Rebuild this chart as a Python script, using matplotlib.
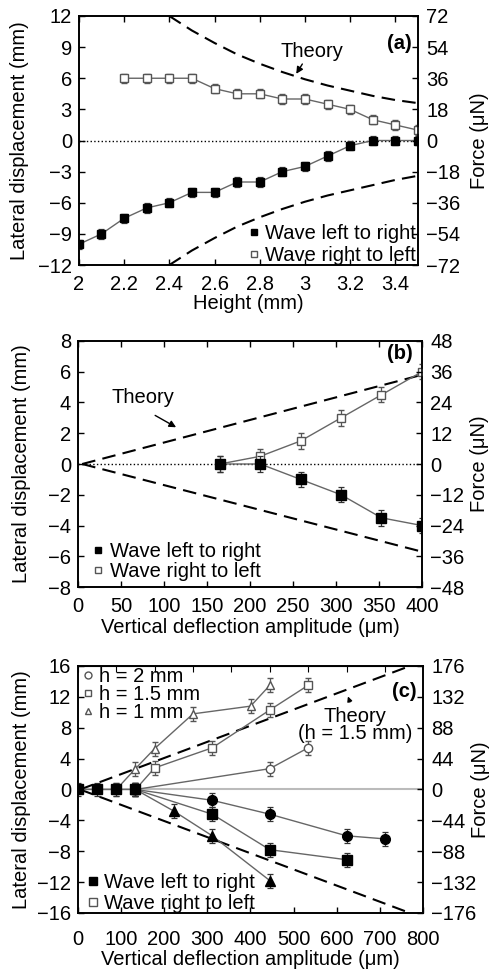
import matplotlib
matplotlib.use("Agg")
import matplotlib.pyplot as plt
from matplotlib.lines import Line2D
import numpy as np

plt.rcParams['font.family'] = ['Liberation Sans', 'DejaVu Sans']
plt.rcParams['font.size'] = 14.5

# ---------------- data, panel (a) ----------------
H_LR = [2.0, 2.1, 2.2, 2.3, 2.4, 2.5, 2.6, 2.7, 2.8, 2.9, 3.0, 3.1, 3.2, 3.3, 3.4, 3.5]
D_LR = [-10, -9, -7.5, -6.5, -6, -5, -5, -4, -4, -3, -2.5, -1.5, -0.5, 0, 0, 0]
H_RL = [2.2, 2.3, 2.4, 2.5, 2.6, 2.7, 2.8, 2.9, 3.0, 3.1, 3.2, 3.3, 3.4, 3.5]
D_RL = [6, 6, 6, 6, 5, 4.5, 4.5, 4, 4, 3.5, 3, 2, 1.5, 1]
ERR_A = 0.45
H_TH = [2.4, 2.5, 2.6, 2.7, 2.8, 2.9, 3.0, 3.1, 3.2, 3.3, 3.4, 3.5]
TH_A_UP = [12, 10.6, 9.4, 8.3, 7.4, 6.6, 5.9, 5.3, 4.8, 4.3, 3.9, 3.6]
TH_A_LOW = [-12, -10.6, -9.4, -8.3, -7.4, -6.6, -5.9, -5.3, -4.8, -4.3, -3.8, -3.4]

# ---------------- data, panel (b) ----------------
AMP_LR = [165, 212, 259, 306, 353, 400]
B_LR = [0, 0, -1, -2, -3.5, -4]
AMP_RL = [165, 212, 259, 306, 353, 400]
B_RL = [0, 0.5, 1.5, 3, 4.5, 6]
ERR_B = 0.5
AMP_TH_B = [5, 400]
TH_B_UP = [0, 5.8]
TH_B_LOW = [0, -5.7]

# ---------------- data, panel (c) ----------------
C_SQ_LR_X = [0, 44.5, 89, 133.5, 311.5, 445, 623]
C_SQ_LR_Y = [0, 0, 0, 0, -3.2, -7.8, -9.1]
C_CI_LR_X = [133.5, 311.5, 445, 623, 712]
C_CI_LR_Y = [0, -1.4, -3.2, -6, -6.4]
C_TR_LR_X = [133.5, 222.5, 311.5, 445]
C_TR_LR_Y = [0, -2.8, -6, -11.8]
C_SQ_RL_X = [133.5, 178, 311.5, 445, 534]
C_SQ_RL_Y = [0, 2.8, 5.4, 10.3, 13.5]
C_CI_RL_X = [133.5, 445, 534]
C_CI_RL_Y = [0, 2.7, 5.4]
C_TR_RL_X = [89, 133.5, 178, 267, 400.5, 445]
C_TR_RL_Y = [0, 2.7, 5.3, 9.8, 10.8, 13.5]
ERR_C = 0.9
AMP_TH_C = [5, 770]
TH_C_UP = [0, 16]
TH_C_LOW = [0, -16]

LINE_GRAY = '#666666'
OPEN_GRAY = '#555555'
DASH = (0, (6.5, 3.5))

fig = plt.figure(figsize=(4.9, 9.69), dpi=100)


def style_axes(ax, ax2, xlim, xticks, yticks, ylim, fticks, fscale, top_ticks=None):
    ax.set_xlim(*xlim)
    ax.set_ylim(*ylim)
    ax.set_xticks(xticks)
    ax.set_yticks(yticks)
    ax2.set_ylim(ylim[0] * fscale, ylim[1] * fscale)
    ax2.set_yticks(fticks)
    ax.tick_params(direction='in', length=4, width=1, top=True, right=False,
                   labelsize=14.5)
    ax.tick_params(axis='y', pad=5)
    ax2.tick_params(direction='in', length=4, width=1, labelsize=14.5, pad=6)
    if top_ticks is not None:
        sec = ax.secondary_xaxis('top')
        sec.set_xticks(top_ticks)
        sec.tick_params(direction='in', length=4, labeltop=False)
        ax.tick_params(top=False)
    for a in (ax, ax2):
        for s in a.spines.values():
            s.set_linewidth(1.2)
    ax.set_ylabel('Lateral displacement (mm)')
    ax2.set_ylabel('Force (\u03bcN)')


def err_series(ax, x, y, err, filled, marker, ms):
    if filled:
        ax.errorbar(x, y, yerr=err, fmt='-', marker=marker, color=LINE_GRAY, lw=1,
                    mfc='black', mec='black', ms=ms, ecolor='#333333',
                    elinewidth=0.9, capsize=2, capthick=0.9, zorder=4)
    else:
        ax.errorbar(x, y, yerr=err, fmt='-', marker=marker, color=LINE_GRAY, lw=1,
                    mfc='white', mec=OPEN_GRAY, mew=1, ms=ms, ecolor=OPEN_GRAY,
                    elinewidth=0.9, capsize=2, capthick=0.9, zorder=3)


def wave_legend(ax, loc, anchor, spacing, ms):
    handles = [Line2D([], [], ls='none', marker='s', ms=ms, mfc='black', mec='black'),
               Line2D([], [], ls='none', marker='s', ms=ms, mfc='white', mec=OPEN_GRAY)]
    return ax.legend(handles, ['Wave left to right', 'Wave right to left'],
                     loc=loc, bbox_to_anchor=anchor, frameon=False,
                     handlelength=0.5, handletextpad=0.3, labelspacing=spacing,
                     borderpad=0, borderaxespad=0, fontsize=14.5)


# ================= panel (a) =================
axa = fig.add_axes([0.161, 0.7265, 0.692, 0.257])
axa2 = axa.twinx()
style_axes(axa, axa2, (2, 3.5), np.arange(2, 3.41, 0.2), np.arange(-12, 13, 3),
           (-12, 12), np.arange(-72, 73, 18), 6)
axa.set_xticklabels(['2', '2.2', '2.4', '2.6', '2.8', '3', '3.2', '3.4'])
axa.tick_params(axis='x', pad=7)
axa.axhline(0, color='black', ls=':', lw=1, zorder=1)
axa.plot(H_TH, TH_A_UP, color='black', ls=DASH, lw=1.5)
axa.plot(H_TH, TH_A_LOW, color='black', ls=DASH, lw=1.5)
err_series(axa, H_RL, D_RL, ERR_A, False, 's', 5.5)
err_series(axa, H_LR, D_LR, ERR_A, True, 's', 5.5)
axa.text(3.03, 8.6, 'Theory', ha='center', va='center')
axa.annotate('', xy=(2.955, 6.2), xytext=(2.995, 7.6),
             arrowprops=dict(arrowstyle='-|>', color='black', lw=1, mutation_scale=10))
axa.text(0.982, 0.89, '(a)', transform=axa.transAxes, ha='right', va='center',
         fontweight='bold')
wave_legend(axa, 'lower right', (0.995, 0.0), 0.16, 5)
axa.set_xlabel('Height (mm)')
axa.xaxis.set_label_coords(0.5, -0.115)
axa.yaxis.set_label_coords(-0.148, 0.5)
axa2.yaxis.set_label_coords(1.153, 0.5)

# ================= panel (b) =================
axb = fig.add_axes([0.159, 0.3942, 0.702, 0.2539])
axb2 = axb.twinx()
style_axes(axb, axb2, (0, 400), np.arange(0, 401, 50), np.arange(-8, 9, 2),
           (-8, 8), np.arange(-48, 49, 12), 6)
axb.tick_params(axis='x', pad=7)
axb.axhline(0, color='black', ls=':', lw=1, zorder=1)
axb.plot(AMP_TH_B, TH_B_UP, color='black', ls=DASH, lw=1.5)
axb.plot(AMP_TH_B, TH_B_LOW, color='black', ls=DASH, lw=1.5)
err_series(axb, AMP_RL, B_RL, ERR_B, False, 's', 6)
err_series(axb, AMP_LR, B_LR, ERR_B, True, 's', 6.5)
axb.text(76, 4.3, 'Theory', ha='center', va='center')
axb.annotate('', xy=(117, 2.3), xytext=(87, 3.25),
             arrowprops=dict(arrowstyle='-|>', color='black', lw=1, mutation_scale=10))
axb.text(0.974, 0.95, '(b)', transform=axb.transAxes, ha='right', va='center',
         fontweight='bold')
wave_legend(axb, 'lower left', (0.045, 0.025), 0.06, 5)
axb.set_xlabel('Vertical deflection amplitude (\u03bcm)')
axb.xaxis.set_label_coords(0.5, -0.125)
axb.yaxis.set_label_coords(-0.136, 0.5)
axb2.yaxis.set_label_coords(1.14, 0.5)

# ================= panel (c) =================
axc = fig.add_axes([0.159, 0.0578, 0.704, 0.2549])
axc2 = axc.twinx()
style_axes(axc, axc2, (0, 800), np.arange(0, 801, 100), np.arange(-16, 17, 4),
           (-16, 16), np.arange(-176, 177, 44), 11, top_ticks=np.arange(0, 800, 89))
axc.tick_params(axis='x', pad=12)
axc.axhline(0, color='#bbbbbb', lw=1.5, zorder=1)
axc.plot(AMP_TH_C, TH_C_UP, color='black', ls=DASH, lw=1.5, zorder=2)
axc.plot(AMP_TH_C, TH_C_LOW, color='black', ls=DASH, lw=1.5, zorder=2)
err_series(axc, C_CI_RL_X, C_CI_RL_Y, ERR_C, False, 'o', 6)
err_series(axc, C_SQ_RL_X, C_SQ_RL_Y, ERR_C, False, 's', 6)
err_series(axc, C_TR_RL_X, C_TR_RL_Y, ERR_C, False, '^', 6)
err_series(axc, C_CI_LR_X, C_CI_LR_Y, ERR_C, True, 'o', 7)
err_series(axc, C_TR_LR_X, C_TR_LR_Y, ERR_C, True, '^', 6.5)
err_series(axc, C_SQ_LR_X, C_SQ_LR_Y, ERR_C, True, 's', 7)
axc.text(643, 8.4, 'Theory\n(h = 1.5 mm)', ha='center', va='center', linespacing=0.85)
axc.annotate('', xy=(624, 12.4), xytext=(633, 11.0),
             arrowprops=dict(arrowstyle='-|>', color='black', lw=1, mutation_scale=7))
axc.text(0.983, 0.895, '(c)', transform=axc.transAxes, ha='right', va='center',
         fontweight='bold')
h_handles = [Line2D([], [], ls='none', marker=m, ms=5, mfc='white', mec=OPEN_GRAY)
             for m in ('o', 's', '^')]
leg_h = axc.legend(h_handles, ['h = 2 mm', 'h = 1.5 mm', 'h = 1 mm'],
                   loc='upper left', bbox_to_anchor=(0.015, 0.995), frameon=False,
                   handlelength=0.5, handletextpad=0.3, labelspacing=-0.06,
                   borderpad=0, borderaxespad=0, fontsize=14.5)
axc.add_artist(leg_h)
wave_legend(axc, 'lower left', (0.03, 0.0), 0.11, 5.5)
axc.set_xlabel('Vertical deflection amplitude (\u03bcm)')
axc.xaxis.set_label_coords(0.5, -0.148)
axc.yaxis.set_label_coords(-0.136, 0.5)
axc2.yaxis.set_label_coords(1.14, 0.5)

fig.savefig('out.png', dpi=100)
